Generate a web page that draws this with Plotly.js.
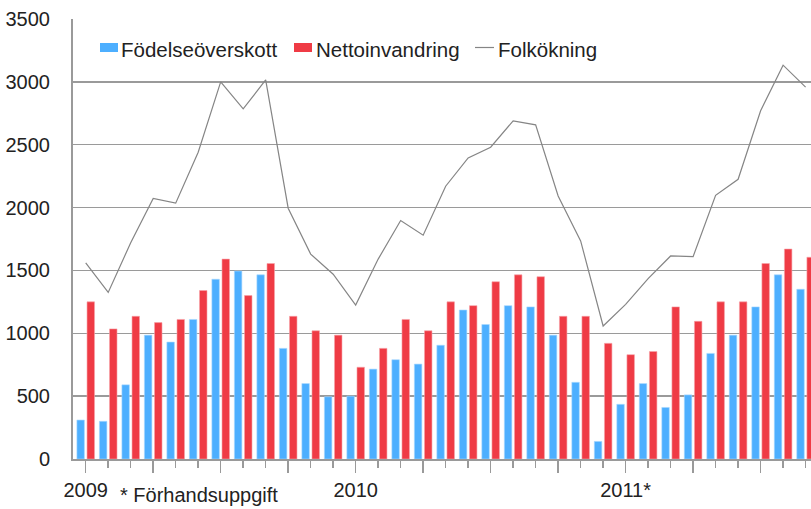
<!DOCTYPE html>
<html>
<head>
<meta charset="utf-8">
<script src="https://cdn.plot.ly/plotly-3.0.1.min.js"></script>
<style>
  html, body { margin: 0; padding: 0; background: #fff; overflow: hidden; }
  #chart { width: 811px; height: 509px; }
</style>
</head>
<body>
<div id="chart"></div>
<script>
// ---- Data (monthly, Jan 2009 – Sep 2011) ----
var months = [
  '2009-01','2009-02','2009-03','2009-04','2009-05','2009-06','2009-07','2009-08','2009-09','2009-10','2009-11','2009-12',
  '2010-01','2010-02','2010-03','2010-04','2010-05','2010-06','2010-07','2010-08','2010-09','2010-10','2010-11','2010-12',
  '2011-01','2011-02','2011-03','2011-04','2011-05','2011-06','2011-07','2011-08','2011-09'
];
var fodelseoverskott = [
  310, 300, 590, 985, 930, 1110, 1430, 1495, 1465, 880, 600, 495,
  500, 715, 790, 755, 905, 1185, 1070, 1220, 1210, 985, 610, 140,
  435, 600, 410, 510, 840, 985, 1210, 1465, 1350
];
var nettoinvandring = [
  1250, 1035, 1135, 1085, 1110, 1340, 1590, 1300, 1555, 1135, 1020, 985,
  730, 880, 1110, 1020, 1250, 1220, 1410, 1465, 1450, 1135, 1135, 920,
  830, 855, 1210, 1095, 1250, 1250, 1555, 1670, 1605
];
var folkokning = [
  1560, 1325, 1720, 2073, 2035, 2440, 3000, 2785, 3015, 1995, 1630, 1470,
  1225, 1590, 1897, 1780, 2170, 2395, 2480, 2690, 2658, 2092, 1735, 1058,
  1230, 1435, 1615, 1610, 2097, 2225, 2770, 3133, 2958
];
var seriesNames = ['Födelseöverskott', 'Nettoinvandring', 'Folkökning'];
var yearLabels = {'2009-01': '2009', '2010-01': '2010', '2011-01': '2011*'};
var footnote = '* Förhandsuppgift';

// ---- Build ----
var xIdx = months.map(function (m, i) { return i; });
var quarterVals = [], quarterText = [];
months.forEach(function (m, i) {
  if (i % 3 === 0) { quarterVals.push(i); quarterText.push(yearLabels[m] || ''); }
});

var BLUE = '#4dafff', RED = '#ef3b45', LINE = '#858585', GRID = '#9a9a9a';
var FONT = '"Liberation Sans", Arial, sans-serif';

var traces = [
  { type: 'bar', name: seriesNames[0], x: xIdx, y: fodelseoverskott,
    marker: { color: BLUE, line: { width: 0.6, color: '#a9d8ff' } } },
  { type: 'bar', name: seriesNames[1], x: xIdx, y: nettoinvandring,
    marker: { color: RED, line: { width: 0.6, color: '#f7a2a7' } } },
  { type: 'scatter', mode: 'lines', name: seriesNames[2], x: xIdx, y: folkokning,
    line: { color: LINE, width: 1.2 } }
];

// pixel -> paper helpers (plot area: x 73..811, y 19..459)
var L = 73, R = 811, T = 19, B = 459;
function px(x) { return (x - L) / (R - L); }
function py(y) { return (B - y) / (B - T); }

var shapes = [
  { type: 'rect', xref: 'paper', yref: 'paper', x0: px(100), x1: px(118), y0: py(52), y1: py(43), fillcolor: BLUE, line: { width: 0 } },
  { type: 'rect', xref: 'paper', yref: 'paper', x0: px(294), x1: px(312), y0: py(52), y1: py(43), fillcolor: RED, line: { width: 0 } },
  { type: 'line', xref: 'paper', yref: 'paper', x0: px(475), x1: px(494), y0: py(47.5), y1: py(47.5), line: { color: LINE, width: 1.2 } }
];
var legFont = { family: FONT, size: 20.5, color: '#222' };
var annotations = [
  { xref: 'paper', yref: 'paper', x: px(119), y: py(49), xanchor: 'left', yanchor: 'middle', text: seriesNames[0], showarrow: false, font: legFont },
  { xref: 'paper', yref: 'paper', x: px(314), y: py(49), xanchor: 'left', yanchor: 'middle', text: seriesNames[1], showarrow: false, font: legFont },
  { xref: 'paper', yref: 'paper', x: px(496), y: py(49), xanchor: 'left', yanchor: 'middle', text: seriesNames[2], showarrow: false, font: legFont },
  { xref: 'paper', yref: 'paper', x: px(119), y: py(495), xanchor: 'left', yanchor: 'middle', text: footnote, showarrow: false, borderpad: 0, font: { family: FONT, size: 20, color: '#222' } }
];

var layout = {
  width: 811, height: 509,
  margin: { l: L, r: 0, t: T, b: 509 - B, pad: 0 },
  paper_bgcolor: '#ffffff', plot_bgcolor: '#ffffff',
  showlegend: false,
  barmode: 'group', bargap: 0.10, bargroupgap: 0.26,
  font: { family: FONT, size: 20, color: '#222' },
  xaxis: {
    range: [-0.565, 32.24], tickmode: 'array', tickvals: quarterVals, ticktext: quarterText,
    ticks: 'outside', ticklen: 12, tickwidth: 1.5, tickcolor: GRID,
    showline: true, linecolor: GRID, linewidth: 2, showgrid: false, zeroline: false,
    minor: { tickmode: 'linear', tick0: 0, dtick: 1, ticks: 'outside', ticklen: 7, tickwidth: 1.5, tickcolor: GRID, showgrid: false },
    tickfont: { family: FONT, size: 20, color: '#222' }, fixedrange: true
  },
  yaxis: {
    range: [0, 3500], tickmode: 'linear', tick0: 0, dtick: 500,
    showgrid: true, gridcolor: GRID, gridwidth: 1.5,
    showline: true, linecolor: GRID, linewidth: 2, ticks: '', zeroline: false,
    ticklabelstandoff: 17, tickfont: { family: FONT, size: 20, color: '#222' }, fixedrange: true
  },
  shapes: shapes,
  annotations: annotations
};

Plotly.newPlot('chart', traces, layout, { displayModeBar: false, staticPlot: true });
</script>
</body>
</html>
